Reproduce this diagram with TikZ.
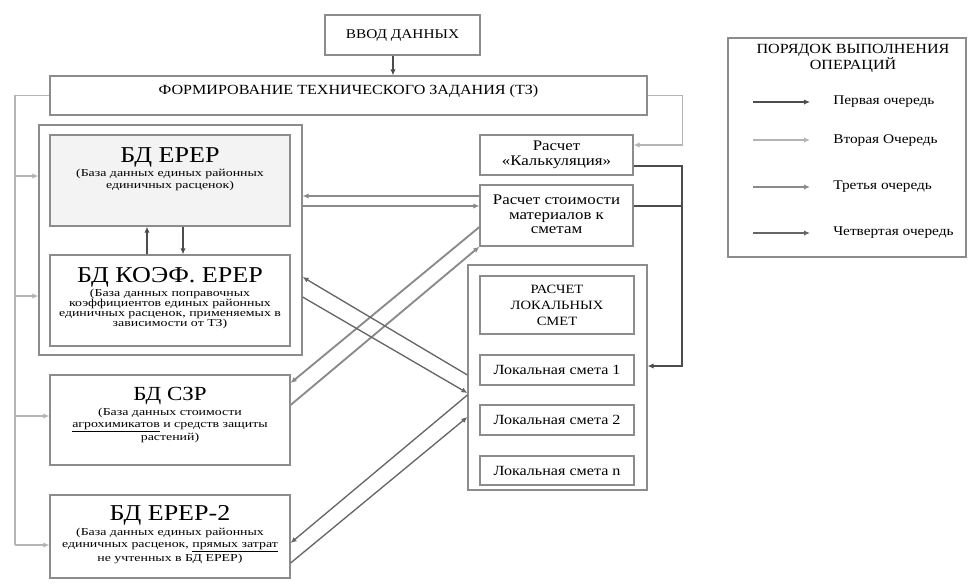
\documentclass[tikz,border=0pt]{standalone}
\usepackage{fontspec}
\setmainfont{Liberation Serif}[FakeStretch=1.15]
\newfontfamily\notefamily{Liberation Serif}[FakeStretch=1.3]
\usetikzlibrary{arrows.meta, positioning, calc, fit}

\definecolor{boxgray}{HTML}{8C8C8C}
\definecolor{firstc}{HTML}{4D4D4D}
\definecolor{secondc}{HTML}{B4B4B4}
\definecolor{thirdc}{HTML}{8A8A8A}
\definecolor{fourthc}{HTML}{666666}
\definecolor{dbfill}{HTML}{F3F3F3}

\newcommand\dbtitle{\fontsize{17}{19}\selectfont}
\newcommand\dbnote{\notefamily\fontsize{8}{8.75}\selectfont}
\newcommand\boxtext{\fontsize{11}{11}\selectfont}

\begin{document}
\begin{tikzpicture}[
    x=0.75pt, y=-0.75pt,
    box/.style    = {rectangle, draw=boxgray, line width=0.9pt, inner sep=0pt},
    boxlabel/.style = {inner sep=0pt, align=center, font=\boxtext},
    title/.style  = {inner sep=0pt, align=center, font=\dbtitle},
    note/.style   = {inner sep=0pt, align=center, font=\dbnote},
    first/.style  = {draw=firstc, line width=1.4pt, -{Latex[length=4.5pt,width=4pt]}},
    second/.style = {draw=secondc, line width=1pt, -{Latex[length=4.5pt,width=4pt]}},
    third/.style  = {draw=thirdc, line width=1.4pt, -{Latex[length=4.5pt,width=4pt]}},
    fourth/.style = {draw=fourthc, line width=1pt, -{Latex[length=4.5pt,width=4pt]}}
]
\useasboundingbox (0,0) rectangle (968,583);

% =====================
% Top: input and TZ
% =====================
\node[box, fit={(325,15) (480,55)}] (vvod) {};
\node[boxlabel, font=\fontsize{10}{11}\selectfont] (vvodlabel) at (vvod) {ВВОД ДАННЫХ};
\node[box, fit={(50,76) (647,115)}] (tz) {};
\node[boxlabel, font=\fontsize{10.5}{11}\selectfont] (tzlabel) at ($(tz)+(0,-4)$)
    {ФОРМИРОВАНИЕ ТЕХНИЧЕСКОГО ЗАДАНИЯ (ТЗ)};

% =====================
% Databases (left)
% =====================
\node[box, fit={(39,125) (302,355)}] (dbmain) {};

\node[box, fill=dbfill, fit={(50,135) (290,226)}] (erer) {};
\node[title, anchor=north] (erertitle) at (170,147) {БД ЕРЕР};
\node[note, below=1.5pt of erertitle] (erernote)
    {(База данных единых районных\\ единичных расценок)};

\node[box, fit={(50,255) (290,346)}] (koef) {};
\node[title, anchor=north] (koeftitle) at (170,267) {БД КОЭФ. ЕРЕР};
\node[note, below=1pt of koeftitle, font=\notefamily\fontsize{8}{7.6}\selectfont] (koefnote)
    {(База данных поправочных\\ коэффициентов единых районных\\
      единичных расценок, применяемых в\\ зависимости от ТЗ)};

\node[box, fit={(50,375) (290,465)}] (szr) {};
\node[title, anchor=north, font=\fontsize{15}{17}\selectfont] (szrtitle) at (170,387) {БД СЗР};
\node[note, below=2pt of szrtitle] (szrnote)
    {(База данных стоимости\\ \underline{агрохимикатов} и средств защиты\\ растений)};

\node[box, fit={(50,495) (290,578)}] (erertwo) {};
\node[title, anchor=north] (erertwotitle) at (170,505) {БД ЕРЕР-2};
\node[note, below=2pt of erertwotitle] (erertwonote)
    {(База данных единых районных\\ единичных расценок, \underline{прямых затрат}\\
      не учтенных в БД ЕРЕР)};

% =====================
% Calculations (right)
% =====================
\node[box, fit={(480,135) (633,175)}] (calc) {};
\node[boxlabel] (calclabel) at (calc) {Расчет\\ «Калькуляция»};
\node[box, fit={(480,185) (633,246)}] (mat) {};
\node[boxlabel] (matlabel) at ($(mat)+(0,-1)$) {Расчет стоимости\\ материалов к\\ сметам};

\node[box, fit={(468,265) (647,490)}] (rasch) {};
\node[box, fit={(480,276) (634,334)}] (raschtitle) {};
\node[boxlabel, font=\fontsize{9.5}{12}\selectfont] (raschlabel) at (raschtitle)
    {РАСЧЕТ\\ ЛОКАЛЬНЫХ\\ СМЕТ};
\node[box, fit={(480,355) (634,385)}] (smeta1) {};
\node[boxlabel, font=\fontsize{10.5}{11}\selectfont] at (smeta1) {Локальная смета 1};
\node[box, fit={(480,405) (634,435)}] (smeta2) {};
\node[boxlabel, font=\fontsize{10.5}{11}\selectfont] at (smeta2) {Локальная смета 2};
\node[box, fit={(480,456) (634,485)}] (smetan) {};
\node[boxlabel, font=\fontsize{10.5}{11}\selectfont] at (smetan) {Локальная смета n};

% =====================
% Legend
% =====================
\node[box, fit={(728,38) (966,257)}] (legend) {};
\node[inner sep=0pt, align=center, font=\fontsize{10.5}{12}\selectfont] (legendtitle) at (853,58)
    {ПОРЯДОК ВЫПОЛНЕНИЯ\\ ОПЕРАЦИЙ};
\node[inner sep=0pt, anchor=west, font=\fontsize{10}{11}\selectfont] (lg1) at (833,102) {Первая очередь};
\node[inner sep=0pt, anchor=west, font=\fontsize{10}{11}\selectfont] (lg2) at (833,140) {Вторая Очередь};
\node[inner sep=0pt, anchor=west, font=\fontsize{10}{11}\selectfont] (lg3) at (833,187) {Третья очередь};
\node[inner sep=0pt, anchor=west, font=\fontsize{10}{11}\selectfont] (lg4) at (833,233) {Четвертая очередь};

\draw[first]  ($(lg1.west)+(-80,0)$) -- ($(lg1.west)+(-23,0)$);
\draw[second] ($(lg2.west)+(-80,0)$) -- ($(lg2.west)+(-23,0)$);
\draw[third]  ($(lg3.west)+(-80,0)$) -- ($(lg3.west)+(-23,0)$);
\draw[fourth] ($(lg4.west)+(-80,0)$) -- ($(lg4.west)+(-23,0)$);

% ====================================
% Connections
% ====================================
\draw[first] (vvod.south -| 393,0) -- (tz.north -| 393,0);

% TZ to the databases
\coordinate (bustop) at (15,95.5);
\coordinate (busbot) at (15,545);
\draw[secondc, line width=1pt] (tz.west) -- (bustop) -- (busbot);
\draw[second] (15,176) -- (dbmain.west |- 0,176);
\draw[second] (15,296) -- (dbmain.west |- 0,296);
\draw[second] (15,416) -- (szr.west |- 0,416);
\draw[second] (busbot) -- (erertwo.west |- busbot);

% TZ to the calculation
\draw[second] (tz.east) -- ++(35,0) |- (calc.east |- 0,145);

% between the two databases
\draw[first] (koef.north -| 147,0) -- (erer.south -| 147,0);
\draw[first] (erer.south -| 183,0) -- (koef.north -| 183,0);

% databases and material prices
\draw[third] (mat.west |- 0,196) -- (dbmain.east |- 0,196);
\draw[third] (dbmain.east |- 0,206) -- (mat.west |- 0,206);
\draw[third] (mat.west |- 0,227) -- (szr.east |- 0,383);
\draw[third] (szr.east |- 0,405) -- (mat.south west);

% databases and local estimates
\draw[fourth] (rasch.west |- 0,375) -- (dbmain.east |- 0,277);
\draw[fourth] (dbmain.east |- 0,297) -- (rasch.west |- 0,393);
\draw[fourth] (rasch.west |- 0,395) -- (erertwo.east |- 0,543);
\draw[fourth] (erertwo.east |- 0,563) -- (rasch.west |- 0,417);

% calculations to the first estimate
\draw[first] (calc.east |- 0,166) -- (682,166) |- (rasch.east |- 0,366);
\draw[firstc, line width=1.4pt] (mat.east |- 0,206) -- (682,206);

\end{tikzpicture}
\end{document}
